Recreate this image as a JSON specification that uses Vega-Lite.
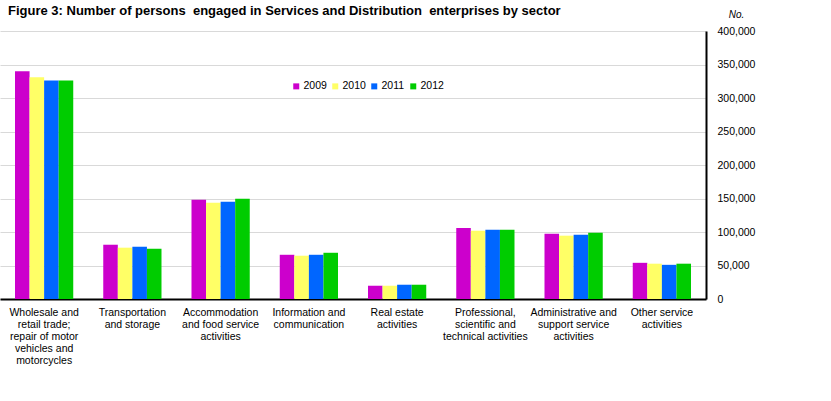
{
  "$schema": "https://vega.github.io/schema/vega-lite/v6.json",
  "width": 706,
  "height": 268,
  "autosize": {"type": "none"},
  "padding": {"left": 0, "top": 31, "right": 125, "bottom": 102},
  "title": {
    "text": "Figure 3: Number of persons \u00a0engaged in Services and Distribution \u00a0enterprises by sector",
    "anchor": "start",
    "frame": "group",
    "dx": 8,
    "offset": 0,
    "dy": 9,
    "font": "Liberation Sans",
    "fontSize": 13,
    "fontWeight": "bold",
    "color": "#000000"
  },
  "config": {
    "view": {"stroke": null},
    "font": "Liberation Sans"
  },
  "data": {
    "values": [
      {"sector": "Wholesale and|retail trade;|repair of motor|vehicles and|motorcycles", "year": "2009", "persons": 340000},
      {"sector": "Wholesale and|retail trade;|repair of motor|vehicles and|motorcycles", "year": "2010", "persons": 331000},
      {"sector": "Wholesale and|retail trade;|repair of motor|vehicles and|motorcycles", "year": "2011", "persons": 326000},
      {"sector": "Wholesale and|retail trade;|repair of motor|vehicles and|motorcycles", "year": "2012", "persons": 326000},
      {"sector": "Transportation|and storage", "year": "2009", "persons": 81000},
      {"sector": "Transportation|and storage", "year": "2010", "persons": 76600},
      {"sector": "Transportation|and storage", "year": "2011", "persons": 78000},
      {"sector": "Transportation|and storage", "year": "2012", "persons": 75000},
      {"sector": "Accommodation|and food service|activities", "year": "2009", "persons": 148000},
      {"sector": "Accommodation|and food service|activities", "year": "2010", "persons": 143700},
      {"sector": "Accommodation|and food service|activities", "year": "2011", "persons": 145000},
      {"sector": "Accommodation|and food service|activities", "year": "2012", "persons": 149700},
      {"sector": "Information and|communication", "year": "2009", "persons": 66000},
      {"sector": "Information and|communication", "year": "2010", "persons": 64600},
      {"sector": "Information and|communication", "year": "2011", "persons": 66000},
      {"sector": "Information and|communication", "year": "2012", "persons": 69000},
      {"sector": "Real estate|activities", "year": "2009", "persons": 19800},
      {"sector": "Real estate|activities", "year": "2010", "persons": 19800},
      {"sector": "Real estate|activities", "year": "2011", "persons": 21300},
      {"sector": "Real estate|activities", "year": "2012", "persons": 21300},
      {"sector": "Professional,|scientific and|technical activities", "year": "2009", "persons": 106000},
      {"sector": "Professional,|scientific and|technical activities", "year": "2010", "persons": 102000},
      {"sector": "Professional,|scientific and|technical activities", "year": "2011", "persons": 103400},
      {"sector": "Professional,|scientific and|technical activities", "year": "2012", "persons": 103400},
      {"sector": "Administrative and|support service|activities", "year": "2009", "persons": 97500},
      {"sector": "Administrative and|support service|activities", "year": "2010", "persons": 94500},
      {"sector": "Administrative and|support service|activities", "year": "2011", "persons": 96000},
      {"sector": "Administrative and|support service|activities", "year": "2012", "persons": 99000},
      {"sector": "Other service|activities", "year": "2009", "persons": 54000},
      {"sector": "Other service|activities", "year": "2010", "persons": 52700},
      {"sector": "Other service|activities", "year": "2011", "persons": 51000},
      {"sector": "Other service|activities", "year": "2012", "persons": 52700}
    ]
  },
  "mark": {"type": "bar"},
  "encoding": {
    "x": {
      "field": "sector",
      "type": "nominal",
      "sort": null,
      "scale": {"paddingInner": 0.34, "paddingOuter": 0.17},
      "axis": {
        "title": null,
        "labelAngle": 0,
        "labelExpr": "split(datum.value, '|')",
        "labelFont": "Liberation Sans",
        "labelFontSize": 10.5,
        "labelColor": "#000000",
        "labelLineHeight": 12,
        "labelPadding": 8,
        "labelBaseline": "top",
        "ticks": false,
        "domainColor": "#000000",
        "domainWidth": 2,
        "labelLimit": 200
      }
    },
    "xOffset": {"field": "year", "type": "nominal", "scale": {"paddingInner": 0, "paddingOuter": 0}},
    "y": {
      "field": "persons",
      "type": "quantitative",
      "scale": {"domain": [0, 400000], "nice": false},
      "axis": {
        "orient": "right",
        "values": [0, 50000, 100000, 150000, 200000, 250000, 300000, 350000, 400000],
        "format": ",.0f",
        "title": "No.",
        "titleAngle": 0,
        "titleX": 30,
        "titleY": -17,
        "titleAlign": "center",
        "titleBaseline": "middle",
        "titleFont": "Liberation Sans",
        "titleFontSize": 10,
        "titleFontStyle": "italic",
        "titleFontWeight": "normal",
        "titleColor": "#000000",
        "labelFont": "Liberation Sans",
        "labelFontSize": 10.5,
        "labelColor": "#000000",
        "labelPadding": 11,
        "ticks": false,
        "domainColor": "#000000",
        "domainWidth": 2,
        "grid": true,
        "gridColor": "#d9d9d9",
        "gridWidth": 1
      }
    },
    "color": {
      "field": "year",
      "type": "nominal",
      "scale": {"domain": ["2009", "2010", "2011", "2012"], "range": ["#CC00CC", "#FFFF66", "#0066FF", "#00CC00"]},
      "legend": {
        "title": null,
        "orient": "none",
        "legendX": 291,
        "legendY": 50,
        "direction": "horizontal",
        "columns": 4,
        "symbolType": "square",
        "symbolSize": 36,
        "symbolStrokeWidth": 0,
        "labelFont": "Liberation Sans",
        "labelFontSize": 10.5,
        "labelColor": "#000000",
        "labelOffset": 2,
        "columnPadding": 3
      }
    }
  }
}
